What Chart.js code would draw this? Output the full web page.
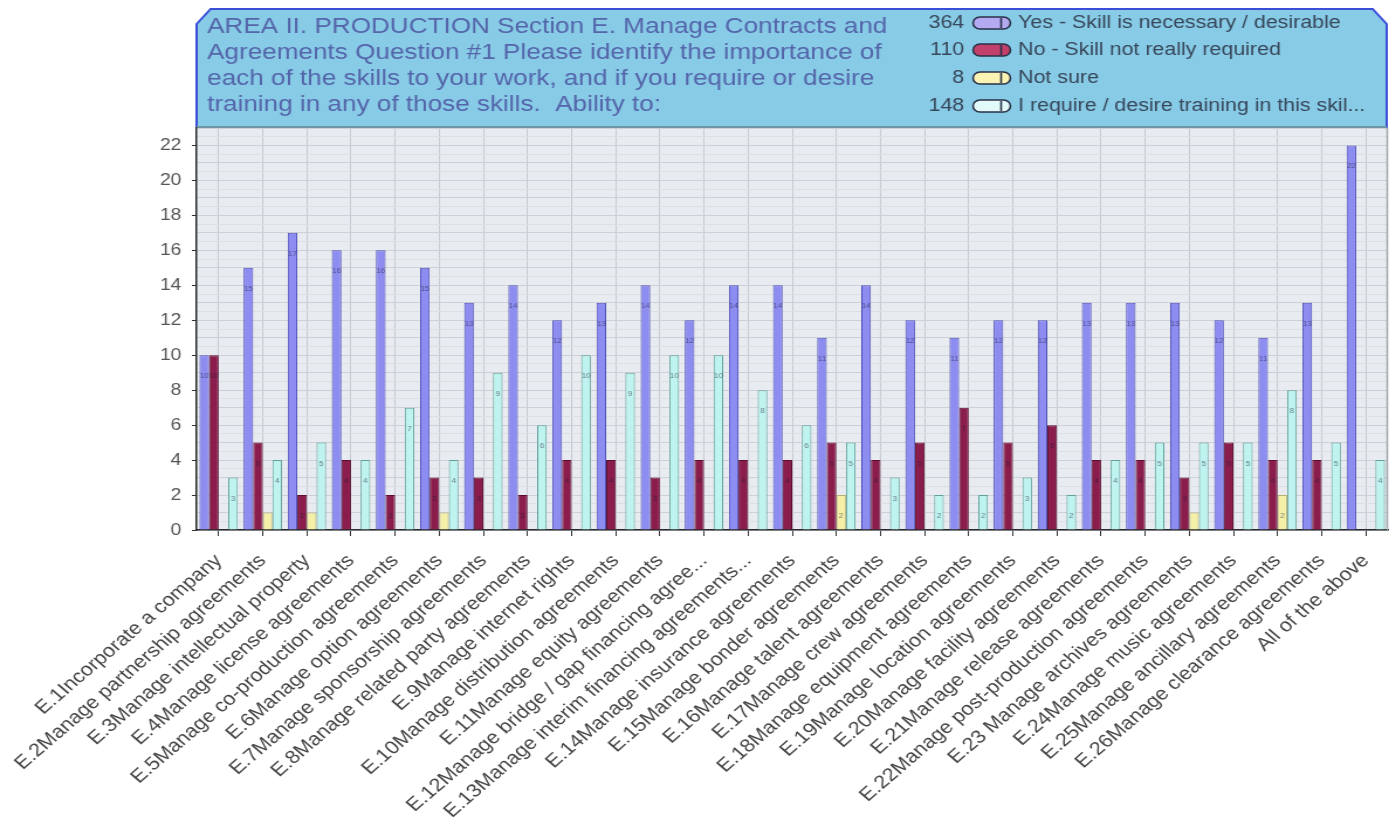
<!DOCTYPE html>
<html>
<head>
<meta charset="utf-8">
<script src="https://cdn.jsdelivr.net/npm/chart.js@4.4.1/dist/chart.umd.min.js"></script>
<style>
  html, body { margin: 0; padding: 0; background: #ffffff; overflow: hidden; }
  /* the survey graphic is drawn on a 1193px-wide canvas and widened to the page width */
  #wrap { position: absolute; left: 0; top: 0; width: 1193px; height: 834px;
          transform: scaleX(1.1702); transform-origin: 0 0; }
</style>
</head>
<body>
<div id="wrap"><canvas id="chart"></canvas></div>
<script>
// Skills asked about in Section E
const categories = [
  'E.1Incorporate a company',
  'E.2Manage partnership agreements',
  'E.3Manage intellectual property',
  'E.4Manage license agreements',
  'E.5Manage co-production agreements',
  'E.6Manage option agreements',
  'E.7Manage sponsorship agreements',
  'E.8Manage related party agreements',
  'E.9Manage internet rights',
  'E.10Manage distribution agreements',
  'E.11Manage equity agreements',
  'E.12Manage bridge / gap financing agree...',
  'E.13Manage interim financing agreements...',
  'E.14Manage insurance agreements',
  'E.15Manage bonder agreements',
  'E.16Manage talent agreements',
  'E.17Manage crew agreements',
  'E.18Manage equipment agreements',
  'E.19Manage location agreements',
  'E.20Manage facility agreements',
  'E.21Manage release agreements',
  'E.22Manage post-production agreements',
  'E.23 Manage archives agreements',
  'E.24Manage music agreements',
  'E.25Manage ancillary agreements',
  'E.26Manage clearance agreements',
  'All of the above'
];

// Answer counts per skill
const yesValues      = [10, 15, 17, 16, 16, 15, 13, 14, 12, 13, 14, 12, 14, 14, 11, 14, 12, 11, 12, 12, 13, 13, 13, 12, 11, 13, 22];
const noValues       = [10,  5,  2,  4,  2,  3,  3,  2,  4,  4,  3,  4,  4,  4,  5,  4,  5,  7,  5,  6,  4,  4,  3,  5,  4,  4,  0];
const notSureValues  = [ 0,  1,  1,  0,  0,  1,  0,  0,  0,  0,  0,  0,  0,  0,  2,  0,  0,  0,  0,  0,  0,  0,  1,  0,  2,  0,  0];
const trainingValues = [ 3,  4,  5,  4,  7,  4,  9,  6, 10,  9, 10, 10,  8,  6,  5,  3,  2,  2,  3,  2,  4,  5,  5,  5,  8,  5,  4];

const seriesNames = [
  'Yes - Skill is necessary / desirable',
  'No - Skill not really required',
  'Not sure',
  'I require / desire training in this skil...'
];

const titleLines = [
  'AREA II. PRODUCTION Section E. Manage Contracts and',
  'Agreements Question #1 Please identify the importance of',
  'each of the skills to your work, and if you require or desire',
  'training in any of those skills.  Ability to:'
];

const FONT = "'Liberation Sans', Arial, Helvetica, sans-serif";

const barFills    = ['#8d8cf0', '#8b1d4c', '#f5f0a8', '#bff3ef'];
const barBorders  = ['#4d4db8', '#5c0e30', '#b9b070', '#5fa09b'];
const iconFills   = ['#b3aaf2', '#c2416c', '#fbf3b4', '#e2fbfa'];

// Header panel (title + legend with totals), plot background and frame
const panelPlugin = {
  id: 'surveyPanel',
  beforeDraw(chart) {
    const ctx = chart.ctx;
    const a = chart.chartArea;
    const L = a.left, R = a.right - 1, T = 9, B = a.top, cx = 12, cy = 15;

    ctx.save();
    // panel fill
    ctx.beginPath();
    ctx.moveTo(L, B);
    ctx.lineTo(L, T + cy);
    ctx.lineTo(L + cx, T);
    ctx.lineTo(R - cx, T);
    ctx.lineTo(R, T + cy);
    ctx.lineTo(R, B);
    ctx.closePath();
    ctx.fillStyle = '#87cbe7';
    ctx.fill();
    // panel outline
    ctx.beginPath();
    ctx.moveTo(L, B);
    ctx.lineTo(L, T + cy);
    ctx.lineTo(L + cx, T);
    ctx.lineTo(R - cx, T);
    ctx.lineTo(R, T + cy);
    ctx.lineTo(R, B);
    ctx.strokeStyle = '#3b4ed8';
    ctx.lineWidth = 2;
    ctx.stroke();
    ctx.beginPath();
    ctx.moveTo(L, B - 1);
    ctx.lineTo(R, B - 1);
    ctx.strokeStyle = '#6f96a6';
    ctx.lineWidth = 2;
    ctx.stroke();

    // plot background
    ctx.fillStyle = '#e8ebef';
    ctx.fillRect(a.left, a.top, a.right - a.left, a.bottom - a.top);

    // title
    ctx.fillStyle = '#5565aa';
    ctx.font = '22.3px ' + FONT;
    ctx.textAlign = 'left';
    ctx.textBaseline = 'middle';
    const titleY = [27, 53, 79, 105];
    titleLines.forEach((t, i) => ctx.fillText(t, L + 9, titleY[i]));

    // legend with totals per answer
    const totals = chart.data.datasets.map(ds => ds.data.reduce((s, v) => s + v, 0));
    const rowY = [23, 50, 78, 106];
    ctx.font = '18.3px ' + FONT;
    chart.data.datasets.forEach((ds, i) => {
      const y = rowY[i];
      ctx.fillStyle = '#38475a';
      ctx.textAlign = 'right';
      ctx.fillText(String(totals[i]), 824, y);
      // pill icon
      const ix = 831.5, iw = 32, ih = 12, iy = y - ih / 2;
      ctx.beginPath();
      ctx.roundRect(ix, iy, iw, ih, 6);
      ctx.fillStyle = iconFills[i];
      ctx.fill();
      ctx.strokeStyle = '#2a3148';
      ctx.lineWidth = 1.6;
      ctx.stroke();
      ctx.beginPath();
      ctx.moveTo(ix + iw - 8, iy + 1);
      ctx.lineTo(ix + iw - 8, iy + ih - 1);
      ctx.stroke();
      ctx.fillStyle = '#38475a';
      ctx.textAlign = 'left';
      ctx.fillText(ds.label, 870, y);
    });
    ctx.restore();
  },
  afterDatasetsDraw(chart) {
    // small value captions inside the bars
    const ctx = chart.ctx;
    ctx.save();
    ctx.font = '7px ' + FONT;
    ctx.textAlign = 'center';
    ctx.textBaseline = 'middle';
    ctx.fillStyle = 'rgba(25,25,60,0.55)';
    chart.data.datasets.forEach((ds, di) => {
      const meta = chart.getDatasetMeta(di);
      meta.data.forEach((el, j) => {
        const v = ds.data[j];
        if (v >= 2) ctx.fillText(String(v), el.x, el.y + 21);
      });
    });
    ctx.restore();
  },
  afterDraw(chart) {
    const ctx = chart.ctx;
    const a = chart.chartArea;
    ctx.save();
    ctx.strokeStyle = '#9ea3aa';
    ctx.lineWidth = 1.5;
    ctx.beginPath();
    ctx.moveTo(a.right - 0.5, a.top);
    ctx.lineTo(a.right - 0.5, a.bottom);
    ctx.stroke();
    ctx.restore();
  }
};

const valueSets = [yesValues, noValues, notSureValues, trainingValues];

new Chart(document.getElementById('chart'), {
  type: 'bar',
  data: {
    labels: categories,
    datasets: valueSets.map((vals, i) => ({
      label: seriesNames[i],
      data: vals,
      backgroundColor: barFills[i],
      borderColor: barBorders[i],
      borderWidth: 1,
      categoryPercentage: 0.87,
      barPercentage: 1.0
    }))
  },
  options: {
    responsive: true,
    maintainAspectRatio: false,
    animation: false,
    layout: { padding: { top: 128, right: 7, left: 0, bottom: 0 } },
    plugins: {
      legend: { display: false },
      title: { display: false },
      tooltip: { enabled: false }
    },
    scales: {
      x: {
        grid: {
          offset: false,
          color: '#c7cbd1',
          tickColor: '#333333',
          tickLength: 6
        },
        border: { display: true, color: '#2a2a2a', width: 1.5 },
        ticks: {
          autoSkip: false,
          minRotation: 45,
          maxRotation: 45,
          padding: 14,
          color: '#454545',
          font: { family: FONT, size: 18.5 }
        },
        afterFit(scale) {
          scale.height = 304;
          scale.paddingLeft = 0;
          scale.paddingRight = 0;
        }
      },
      y: {
        min: 0,
        max: 23,
        grid: {
          color: ctx => (ctx.tick && ctx.tick.value % 1 === 0) ? '#cdd1d7' : '#dcdfe3',
          tickColor: ctx => (ctx.tick && ctx.tick.value % 2 === 0) ? '#333333' : 'rgba(0,0,0,0)',
          tickLength: 4
        },
        border: { display: true, color: '#2a2a2a', width: 1.5 },
        ticks: {
          stepSize: 0.5,
          autoSkip: false,
          padding: 9,
          color: '#555555',
          font: { family: FONT, size: 16.5 },
          callback: v => (v % 2 === 0 && v <= 22) ? String(v) : ''
        },
        afterFit(scale) {
          scale.width = 168;
        }
      }
    }
  },
  plugins: [panelPlugin]
});
</script>
</body>
</html>
